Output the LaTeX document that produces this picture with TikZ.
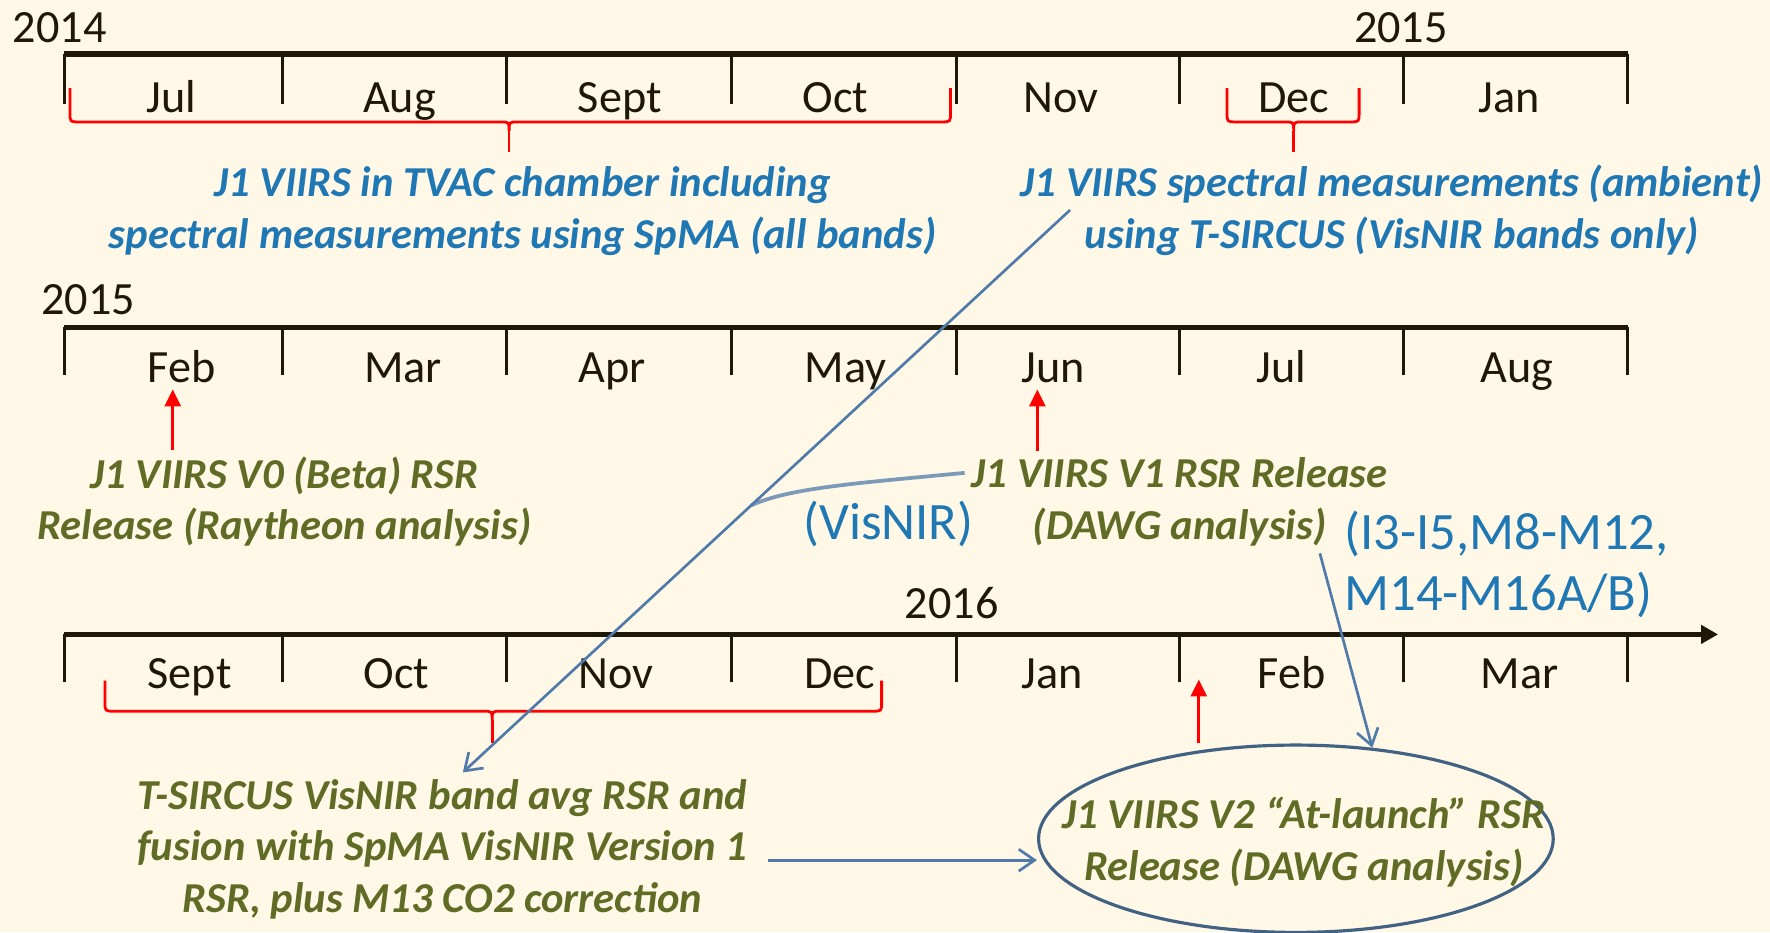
\documentclass[tikz,border=0pt]{standalone}
\usepackage{fontspec}
\setmainfont{Carlito}
\usetikzlibrary{arrows.meta,shapes.geometric}
\definecolor{paper}{RGB}{255,248,230}
\definecolor{axisblack}{RGB}{30,24,8}
\definecolor{measblue}{RGB}{31,119,180}
\definecolor{rsrgreen}{RGB}{96,108,38}
\definecolor{linkblue}{RGB}{80,122,170}
\definecolor{ringblue}{RGB}{66,98,132}
\tikzset{
  axis/.style={draw=axisblack,line width=2.8pt},
  monthtick/.style={draw=axisblack,line width=1.6pt},
  month/.style={anchor=base,text=axisblack,font=\fontsize{23.3}{28}\selectfont},
  measure/.style={anchor=base,align=center,text=measblue,font=\fontsize{21.5}{25.9}\selectfont\bfseries\itshape},
  release/.style={anchor=base,align=center,text=rsrgreen,font=\fontsize{21.5}{25.9}\selectfont\bfseries\itshape},
  bands/.style={anchor=base,align=left,text=measblue,font=\fontsize{26.5}{30.7}\selectfont},
  redbrace/.style={draw=red,line width=1.4pt},
  redarrow/.style={draw=red,line width=1.5pt,-{Triangle[length=8.5pt,width=8pt]}},
  link/.style={draw=linkblue,line width=1.35pt,-{Straight Barb[length=8pt,width=11pt]}},
}

\begin{document}
\begin{tikzpicture}[x=0.02cm,y=-0.02cm]
  \fill[paper] (0,0) rectangle (1568,826);
  \useasboundingbox (0,0) rectangle (1568,826);

  \draw[axis] (57,48) -- (1442,48);
  \draw[axis] (57,290) -- (1442,290);
  \draw[axis,-{Triangle[length=8.5pt,width=9pt]}] (57,562) -- (1522,562);
  \foreach \x in {57,250,449,648,847,1045,1243,1442} {
    \draw[monthtick] (\x,48) -- (\x,92);
    \draw[monthtick] (\x,290) -- (\x,332);
    \draw[monthtick] (\x,562) -- (\x,604);
  }

  \node[month] (y2014) at (53,38) {2014};
  \node[month] (y2015a) at (1241,38) {2015};
  \node[month] (y2015b) at (78,279) {2015};
  \node[month] (y2016) at (843,548) {2016};

  \node[month] (jul14) at (152,100) {Jul};
  \node[month] (aug14) at (354,100) {Aug};
  \node[month] (sep14) at (549,100) {Sept};
  \node[month] (oct14) at (740,100) {Oct};
  \node[month] (nov14) at (940,100) {Nov};
  \node[month] (dec14) at (1146,100) {Dec};
  \node[month] (jan15) at (1337,100) {Jan};

  \node[month] (feb15) at (161,339) {Feb};
  \node[month] (mar15) at (357,339) {Mar};
  \node[month] (apr15) at (542,339) {Apr};
  \node[month] (may15) at (749,339) {May};
  \node[month] (jun15) at (933,339) {Jun};
  \node[month] (jul15) at (1135,339) {Jul};
  \node[month] (aug15) at (1344,339) {Aug};

  \node[month] (sep15) at (168,610) {Sept};
  \node[month] (oct15) at (351,610) {Oct};
  \node[month] (nov15) at (546,610) {Nov};
  \node[month] (dec15) at (744,610) {Dec};
  \node[month] (jan16) at (932,610) {Jan};
  \node[month] (feb16) at (1144,610) {Feb};
  \node[month] (mar16) at (1346,610) {Mar};

  \draw[redbrace] (62,78) -- (62,100) .. controls (62,108) .. (70,108) -- (443,108)
    .. controls (451,108) .. (451,116) .. controls (451,108) .. (459,108) -- (834,108)
    .. controls (842,108) .. (842,100) -- (842,78);
  \draw[redbrace] (451,116) -- (451,135);
  \draw[redbrace] (1087,78) -- (1087,100) .. controls (1087,108) .. (1095,108) -- (1138,108)
    .. controls (1146,108) .. (1146,116) .. controls (1146,108) .. (1154,108) -- (1196,108)
    .. controls (1204,108) .. (1204,100) -- (1204,78);
  \draw[redbrace] (1146,116) -- (1146,135);
  \draw[redbrace] (93,603) -- (93,622) .. controls (93,630) .. (101,630) -- (428,630)
    .. controls (436,630) .. (436,638) .. controls (436,630) .. (444,630) -- (773,630)
    .. controls (781,630) .. (781,622) -- (781,603);
  \draw[redbrace] (436,638) -- (436,658);

  \node[measure] (tvac) at (463,220) {J1 VIIRS in TVAC chamber including\\spectral measurements using SpMA (all bands)};
  \node[measure] (ambient) at (1233,220) {J1 VIIRS spectral measurements (ambient)\\using T-SIRCUS (VisNIR bands only)};

  \node[release] (v0) at (252,478) {J1 VIIRS V0 (Beta) RSR\\Release (Raytheon analysis)};
  \node[release] (v1) at (1045,432) {J1 VIIRS V1 RSR Release};
  \node[release] (dawg) at (1045,478) {(DAWG analysis)};
  \node[bands] (visnir) at (787,478) {(VisNIR)};
  \node[bands,anchor=base west] (ibands) at (1185,541) {(I3-I5,M8-M12,\\M14-M16A/B)};

  \node[release] (fusion) at (392,808) {T-SIRCUS VisNIR band avg RSR and\\fusion with SpMA VisNIR Version 1\\RSR, plus M13 CO2 correction};

  \node[draw=ringblue,line width=1.6pt,ellipse,minimum width=9.12cm,minimum height=3.32cm,inner sep=0pt] (atlaunch) at (1148,743) {};
  \node[release,anchor=center] (v2) at (1155,746) {J1 VIIRS V2 ``At-launch'' RSR\\Release (DAWG analysis)};

  \coordinate (febmark) at (153,345);
  \coordinate (junmark) at (919,345);
  \coordinate (febmark16) at (1062,602);
  \draw[redarrow] (febmark |- v0.north) -- (febmark);
  \draw[redarrow] (junmark |- v1.north) -- (junmark);
  \draw[redarrow] (febmark16 |- atlaunch.north) -- (febmark16);

  \coordinate (ambtail) at (948,186);
  \draw[link] (ambtail) -- coordinate[pos=0.525] (visnirjoin) ([xshift=0.36cm]fusion.north);
  \draw[draw=linkblue,line width=1.9pt,opacity=0.75] (v1.west) .. controls (760,428) and (700,432) .. (visnirjoin);
  \draw[link] ([xshift=-0.24cm]dawg.south east) -- (atlaunch.50);
  \coordinate (fusout) at (680,762);
  \draw[link] (fusout) -- (fusout -| atlaunch.west);
\end{tikzpicture}
\end{document}
